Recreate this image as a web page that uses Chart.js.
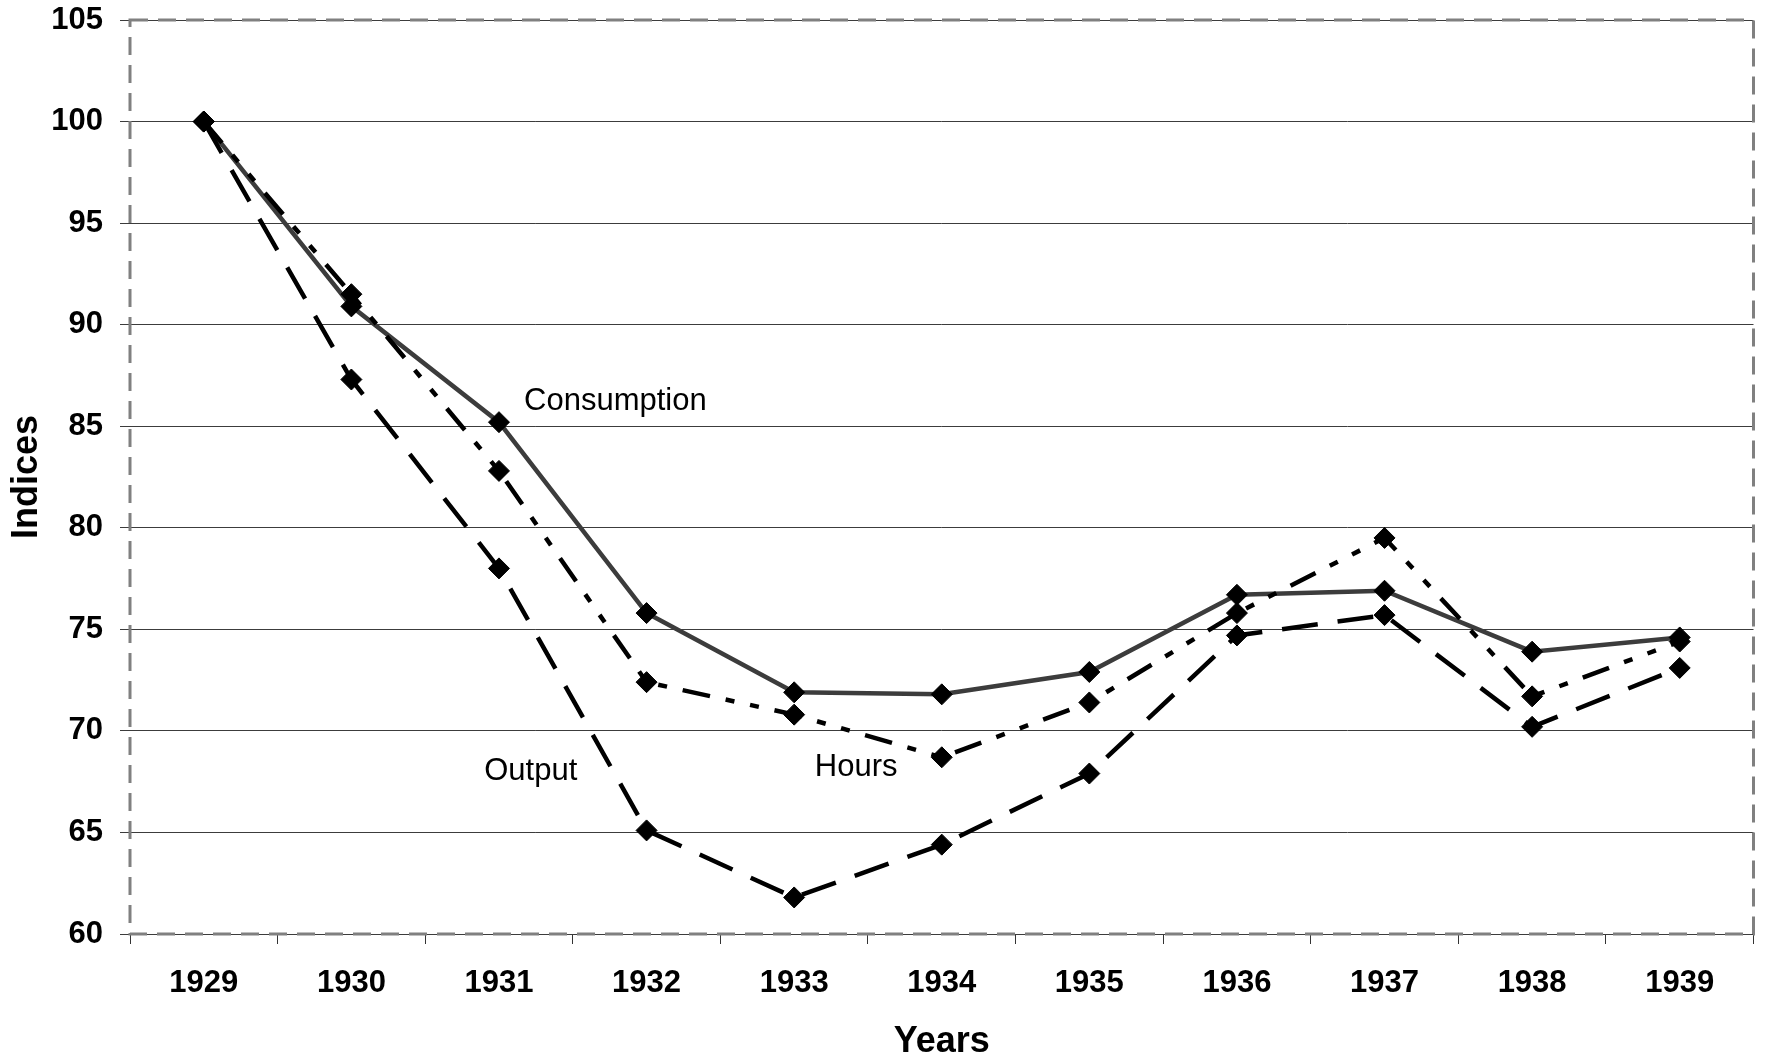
<!DOCTYPE html>
<html>
<head>
<meta charset="utf-8">
<script src="https://cdn.jsdelivr.net/npm/chart.js@4"></script>
<style>
  html, body { margin: 0; padding: 0; background: #fff; }
  #wrap { width: 1765px; height: 1060px; }
</style>
</head>
<body>
<div id="wrap"><canvas id="chart" width="1765" height="1060"></canvas></div>
<script>
// data
const years = ['1929', '1930', '1931', '1932', '1933', '1934', '1935', '1936', '1937', '1938', '1939'];
const consumption = [100, 90.9, 85.2, 75.8, 71.9, 71.8, 72.9, 76.7, 76.9, 73.9, 74.6];
const hours = [100, 91.5, 82.8, 72.4, 70.8, 68.7, 71.4, 75.8, 79.5, 71.7, 74.4];
const output = [100, 87.3, 78.0, 65.1, 61.8, 64.4, 67.9, 74.7, 75.7, 70.2, 73.1];

// in-plot labels, anchored in data units (category index, value)
const noteText = ['Consumption', 'Output', 'Hours'];
const noteX = [2.17, 1.9, 4.14];
const noteY = [86.2, 68.0, 68.2];

const FONT = "'Liberation Sans', Arial, sans-serif";

// dashed frame round the plot area + the text labels
const framePlugin = {
    id: 'frame',
    afterDatasetsDraw(chart) {
        const ctx = chart.ctx;
        const a = chart.chartArea;
        ctx.save();
        ctx.strokeStyle = '#808080';
        ctx.lineWidth = 3;
        ctx.setLineDash([18, 10]);
        ctx.strokeRect(a.left, a.top, a.right - a.left, a.bottom - a.top);
        ctx.restore();

        const xs = chart.scales.x, ys = chart.scales.y;
        ctx.save();
        ctx.fillStyle = '#000';
        ctx.font = '31px ' + FONT;
        ctx.textAlign = 'left';
        ctx.textBaseline = 'middle';
        noteText.forEach((t, i) => {
            ctx.fillText(t, xs.getPixelForValue(noteX[i]), ys.getPixelForValue(noteY[i]));
        });
        ctx.restore();
    }
};

const pointStyle = {
    pointStyle: 'rectRot',
    pointRadius: 10.5,
    pointHoverRadius: 10.5,
    pointBackgroundColor: '#000',
    pointBorderColor: '#000',
    pointBorderWidth: 1,
    tension: 0,
    fill: false
};

new Chart(document.getElementById('chart'), {
    type: 'line',
    data: {
        labels: years,
        datasets: [
            Object.assign({
                label: 'Output',
                data: output,
                borderColor: '#000',
                borderWidth: 4.5,
                borderDash: [36, 20]
            }, pointStyle),
            Object.assign({
                label: 'Hours',
                data: hours,
                borderColor: '#000',
                borderWidth: 4.5,
                borderDash: [28, 16, 9, 16, 9, 16]
            }, pointStyle),
            Object.assign({
                label: 'Consumption',
                data: consumption,
                borderColor: '#3c3c3c',
                borderWidth: 4.5
            }, pointStyle)
        ]
    },
    options: {
        responsive: false,
        animation: false,
        layout: { padding: { top: 20, right: -7, left: 0, bottom: 0 } },
        plugins: {
            legend: { display: false },
            tooltip: { enabled: false }
        },
        scales: {
            x: {
                type: 'category',
                offset: true,
                grid: {
                    offset: true,
                    drawOnChartArea: false,
                    drawTicks: true,
                    tickLength: 10,
                    color: '#333',
                    lineWidth: 1
                },
                border: { display: false },
                ticks: {
                    color: '#000',
                    padding: 21,
                    maxRotation: 0,
                    font: { family: FONT, size: 31, weight: 'bold' }
                },
                title: {
                    display: true,
                    text: 'Years',
                    color: '#000',
                    padding: { top: 0, bottom: 0 },
                    font: { family: FONT, size: 36, weight: 'bold', lineHeight: 1.0 }
                },
                afterFit(s) {
                    s.height = 126;
                    s.paddingLeft = 0;
                    s.paddingRight = 0;
                }
            },
            y: {
                min: 60,
                max: 105,
                grid: {
                    color: '#3c3c3c',
                    lineWidth: 1,
                    drawTicks: true,
                    tickLength: 10
                },
                border: { display: false },
                ticks: {
                    stepSize: 5,
                    color: '#000',
                    padding: 17,
                    font: { family: FONT, size: 31, weight: 'bold' }
                },
                title: {
                    display: true,
                    text: 'Indices',
                    color: '#000',
                    padding: { top: 5, bottom: 0 },
                    font: { family: FONT, size: 36, weight: 'bold' }
                },
                afterFit(s) {
                    s.width = 130;
                    s.paddingTop = 0;
                    s.paddingBottom = 0;
                }
            }
        }
    },
    plugins: [framePlugin]
});
</script>
</body>
</html>
